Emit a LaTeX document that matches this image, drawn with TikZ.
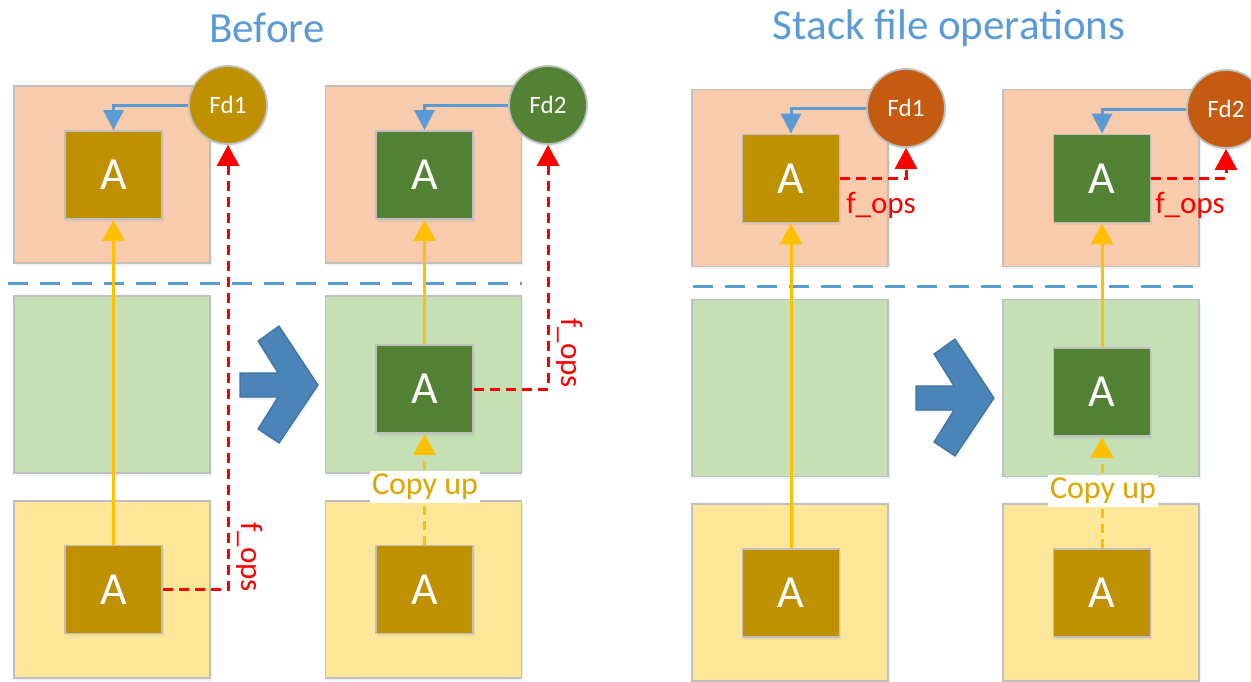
\documentclass[tikz,border=0pt]{standalone}
\usepackage{fontspec}
\setmainfont{Carlito}
\usetikzlibrary{arrows.meta,shadows}

\definecolor{pinkbg}{HTML}{F8CBAD}
\definecolor{greenbg}{HTML}{C5E0B4}
\definecolor{yellowbg}{HTML}{FFE699}
\definecolor{gold}{HTML}{BF9000}
\definecolor{leaf}{HTML}{548235}
\definecolor{rust}{HTML}{C55A11}
\definecolor{sky}{HTML}{5B9BD5}
\definecolor{amber}{HTML}{FFC000}
\definecolor{copytext}{HTML}{DDA700}
\definecolor{edgegray}{HTML}{BFBFBF}
\definecolor{chevfill}{HTML}{4A85BA}
\definecolor{chevedge}{HTML}{41719C}

\tikzset{
  softshadow/.style={drop shadow={opacity=0.12, fill=sky!60!gray, shadow xshift=1.5pt, shadow yshift=-2.5pt}},
  layer/.style={rectangle, draw=edgegray, line width=1.8pt, minimum width=196pt, minimum height=177pt, inner sep=0pt, softshadow},
  filebox/.style={rectangle, draw=edgegray, line width=1.8pt, minimum width=97pt, minimum height=88pt, inner sep=0pt, text=white, font=\fontsize{46}{50}\selectfont, softshadow},
  fdcircle/.style={circle, draw=edgegray, line width=1.8pt, minimum size=78pt, inner sep=0pt, text=white, font=\fontsize{25}{28}\selectfont, softshadow},
  fdlink/.style={draw=sky, line width=3pt, -{Triangle[width=20pt,length=20pt]}},
  lookup/.style={draw=amber, line width=3pt, -{Triangle[width=22pt,length=21pt]}},
  copylink/.style={lookup, dash pattern=on 9pt off 6pt},
  opslink/.style={draw=red, line width=3pt, dash pattern=on 10pt off 6pt, -{Triangle[width=22pt,length=21pt]}},
  opslabel/.style={text=red, font=\fontsize{31}{34}\selectfont, inner sep=0pt},
  copylabel/.style={fill=white, text=copytext, font=\fontsize{32}{36}\selectfont, inner xsep=2pt, inner ysep=3pt},
  title/.style={text=sky, font=\fontsize{43}{48}\selectfont},
  separator/.style={draw=sky, line width=3pt, dash pattern=on 20pt off 12pt},
  chevron/.pic={\draw[chevedge, fill=chevfill, line width=1.2pt, softshadow]
      (0,0) -- (38,0) -- (18,-32) -- (39,-47) -- (78,12) -- (39,70) -- (18,56) -- (38,24) -- (0,24) -- cycle;}
}

\begin{document}
\begin{tikzpicture}[x=1pt,y=-1pt]
\useasboundingbox (0,0) rectangle (1251,681);
\clip (0,0) rectangle (1251,681);

% titles
\node[title] (tBefore) at (267,28) {Before};
\node[title] (tStack) at (949,28) {Stack file operations};

% ---------- before: layers ----------
\node[layer, fill=pinkbg]   (pl1) at (112,174.5) {};
\node[layer, fill=greenbg]  (gl1) at (112,384.5) {};
\node[layer, fill=yellowbg] (yl1) at (112,589.5) {};
\node[layer, fill=pinkbg]   (pl2) at (423.5,174.5) {};
\node[layer, fill=greenbg]  (gl2) at (423.5,384.5) {};
\node[layer, fill=yellowbg] (yl2) at (423.5,589.5) {};

% files
\node[filebox, fill=gold] (a11) at (113.5,175) {A};
\node[filebox, fill=gold] (a13) at (113.5,589.5) {A};
\node[filebox, fill=leaf] (a21) at (424.5,175) {A};
\node[filebox, fill=leaf] (a22) at (424.5,389) {A};
\node[filebox, fill=gold] (a23) at (424.5,589.5) {A};

% file descriptors
\node[fdcircle, fill=gold] (fd1) at (228,105) {Fd1};
\node[fdcircle, fill=leaf] (fd2) at (548,105) {Fd2};

% upper / lower boundary
\coordinate (s1) at (8,283);
\coordinate (s2) at (522,283);
\draw[separator] (s1) -- (s2);

\pic at (240,373) {chevron};

\draw[fdlink] (fd1.west) -| (a11.north);
\draw[fdlink] (fd2.west) -| (a21.north);
\draw[lookup] (a13.north) -- (a11.south);
\draw[lookup] (a22.north) -- (a21.south);
\draw[copylink] (a23.north) -- (a22.south);
\node[copylabel] (cu1) at (425,487) {Copy up};
\draw[opslink] (a13.east) -| (fd1.south);
\draw[opslink] (a22.east) -| (fd2.south);
\node[opslabel, rotate=-90] (op1) at (250,557) {f\_ops};
\node[opslabel, rotate=-90] (op2) at (570,353) {f\_ops};

% ---------- stack file operations: layers ----------
\node[layer, fill=pinkbg]   (pr1) at (790,178) {};
\node[layer, fill=greenbg]  (gr1) at (790,388) {};
\node[layer, fill=yellowbg] (yr1) at (790,592.5) {};
\node[layer, fill=pinkbg]   (pr2) at (1101,178) {};
\node[layer, fill=greenbg]  (gr2) at (1101,388) {};
\node[layer, fill=yellowbg] (yr2) at (1101,592.5) {};

% files
\node[filebox, fill=gold] (b11) at (791,178.5) {A};
\node[filebox, fill=gold] (b13) at (791,593) {A};
\node[filebox, fill=leaf] (b21) at (1102,178.5) {A};
\node[filebox, fill=leaf] (b22) at (1102,392) {A};
\node[filebox, fill=gold] (b23) at (1102,593) {A};

% file descriptors
\node[fdcircle, fill=rust] (fd3) at (906,108) {Fd1};
\node[fdcircle, fill=rust] (fd4) at (1226,109) {Fd2};

\coordinate (s3) at (693,286);
\coordinate (s4) at (1198,286);
\draw[separator] (s3) -- (s4);

\pic at (916,386) {chevron};

\draw[fdlink] (fd3.west) -| (b11.north);
\draw[fdlink] (fd4.west) -| (b21.north);
\draw[lookup] (b13.north) -- (b11.south);
\draw[lookup] (b22.north) -- (b21.south);
\draw[copylink] (b23.north) -- (b22.south);
\node[copylabel] (cu2) at (1103,491) {Copy up};
\draw[opslink] (b11.east) -| (fd3.south);
\draw[opslink] (b21.east) -| (fd4.south);
\node[opslabel] (op3) at (881,205) {f\_ops};
\node[opslabel] (op4) at (1190,205) {f\_ops};
\end{tikzpicture}
\end{document}
